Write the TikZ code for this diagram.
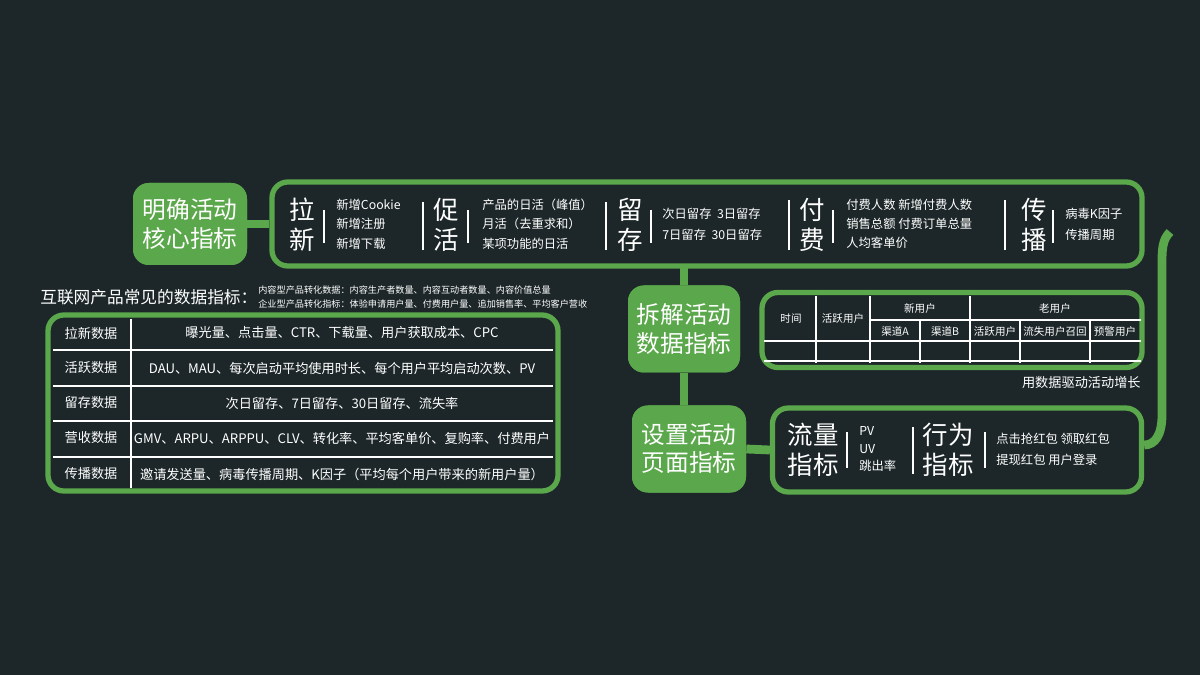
\documentclass[tikz,border=0pt]{standalone}
\usepackage{fontspec}
\setmainfont{Noto Sans CJK SC}
\definecolor{bg}{HTML}{1D2729}
\definecolor{gr}{HTML}{5AA84B}
\begin{document}
\begin{tikzpicture}[x=0.02cm,y=-0.02cm,
  gbox/.style={fill=gr,rounded corners=9pt,text=white,align=center,font=\fontsize{13.5}{16}\selectfont,inner sep=0pt},
  obox/.style={draw=gr,line width=3pt,rounded corners=9pt},
  big/.style={text=white,font=\fontsize{14.5}{17}\selectfont,align=center,inner sep=0pt},
  itm/.style={text=white,font=\fontsize{7}{11}\selectfont,align=left,anchor=west,inner sep=0pt},
  sep/.style={draw=white,line width=0.6pt},
  tl/.style={draw=white,line width=0.9pt},
  tt/.style={text=white,font=\fontsize{7.5}{9}\selectfont,inner sep=0pt},
  st/.style={text=white,font=\fontsize{5.2}{6}\selectfont,inner sep=0pt},
  con/.style={draw=gr,line width=5pt}]
\fill[bg] (0,0) rectangle (1200,675);
\useasboundingbox (0,0) rectangle (1200,675);
\node[gbox,minimum width=114*0.02cm,minimum height=82*0.02cm] (core) at (190,224) {明确活动\\核心指标};
\node[obox,minimum width=870*0.02cm,minimum height=84*0.02cm] (top) at (707,224) {};
\node[gbox,minimum width=112*0.02cm,minimum height=87*0.02cm] (split) at (684,329) {拆解活动\\数据指标};
\node[gbox,minimum width=114*0.02cm,minimum height=87*0.02cm] (page) at (689,449) {设置活动\\页面指标};
\node[obox,minimum width=369*0.02cm,minimum height=84*0.02cm] (bot) at (957,450) {};
\path[con] (core.east) -- (top.west);
\path[con] (684,266) -- (split.north);
\path[con] (split.south) -- (684,405);
\path[con] (page.east) -- (bot.west);
\coordinate (rs) at (1170,232);
\path (bot.east) ++(0,-5) coordinate (be);
\path[con] (rs) .. controls (1162,240) and (1162,250) .. (1162,265) -- (1162,415) .. controls (1162,435) and (1155,445) .. (be);
\node[gbox,minimum width=114*0.02cm,minimum height=82*0.02cm] at (190,224) {明确活动\\核心指标};
\node[gbox,minimum width=112*0.02cm,minimum height=87*0.02cm] at (684,329) {拆解活动\\数据指标};
\node[gbox,minimum width=114*0.02cm,minimum height=87*0.02cm] at (689,449) {设置活动\\页面指标};
% top box content
\node[big] (lx) at (302,225) {拉\\新};
\draw[sep] (324,210)--(324,243);
\node[itm] at (336,224) {新增Cookie\\新增注册\\新增下载};
\draw[sep] (423,202)--(423,250);
\node[big] (ch) at (446,225) {促\\活};
\draw[sep] (468,210)--(468,243);
\node[itm] at (482,224) {产品的日活（峰值）\\月活（去重求和）\\某项功能的日活};
\draw[sep] (606,202)--(606,250);
\node[big] (lc) at (630,225) {留\\存};
\draw[sep] (651,210)--(651,243);
\node[itm,font=\fontsize{7}{12}\selectfont] at (662,224) {次日留存\ \ 3日留存\\7日留存\ \ 30日留存};
\draw[sep] (789,200)--(789,250);
\node[big] (ff) at (812,225) {付\\费};
\draw[sep] (833,210)--(833,243);
\node[itm] at (846,224) {付费人数\ 新增付费人数\\销售总额\ 付费订单总量\\人均客单价};
\draw[sep] (1005,200)--(1005,250);
\node[big] (cb) at (1034,225) {传\\播};
\draw[sep] (1053,210)--(1053,243);
\node[itm,font=\fontsize{7}{12}\selectfont] at (1065,224) {病毒K因子\\传播周期};
% left title
\node[text=white,font=\fontsize{9.5}{11}\selectfont,anchor=west,inner sep=0pt] (ltitle) at (40,297) {互联网产品常见的数据指标：};
\node[st,anchor=west] (s1) at (258,290) {内容型产品转化数据：内容生产者数量、内容互动者数量、内容价值总量};
\node[st,anchor=west] (s2) at (258,304) {企业型产品转化指标：体验申请用户量、付费用户量、追加销售率、平均客户营收};
% left table
\node[obox,minimum width=510*0.02cm,minimum height=176*0.02cm] (ltab) at (303,403) {};
\foreach \y in {350,386,421,457} \draw[tl] (53,\y)--(553,\y);
\draw[tl] (131,319)--(131,488);
\foreach \y/\a/\b in {333/拉新数据/曝光量、点击量、CTR、下载量、用户获取成本、CPC,
  368/活跃数据/DAU、MAU、每次启动平均使用时长、每个用户平均启动次数、PV,
  403/留存数据/次日留存、7日留存、30日留存、流失率,
  438/营收数据/GMV、ARPU、ARPPU、CLV、转化率、平均客单价、复购率、付费用户,
  474/传播数据/邀请发送量、病毒传播周期、K因子（平均每个用户带来的新用户量）}{
  \node[tt] at (91,\y) {\a};
  \node[tt] at (342,\y) {\b};}
% right table
\node[obox,minimum width=380*0.02cm,minimum height=75*0.02cm] (rt) at (952,330) {};
\draw[tl] (870,320)--(1141,320);
\draw[tl] (764,341)--(1141,341);
\draw[tl] (764,361)--(1141,361);
\foreach \x in {816,870,970} \draw[tl] (\x,296)--(\x,363);
\foreach \x in {920,1020,1090} \draw[tl] (\x,320)--(\x,363);
\node[st,font=\fontsize{6}{7}\selectfont] at (791,319) {时间};
\node[st,font=\fontsize{6}{7}\selectfont] at (843,319) {活跃用户};
\node[st,font=\fontsize{6}{7}\selectfont] at (920,308) {新用户};
\node[st,font=\fontsize{6}{7}\selectfont] at (1055,308) {老用户};
\node[st,font=\fontsize{6}{7}\selectfont] at (895,331) {渠道A};
\node[st,font=\fontsize{6}{7}\selectfont] at (945,331) {渠道B};
\node[st,font=\fontsize{6}{7}\selectfont] at (995,331) {活跃用户};
\node[st,font=\fontsize{6}{7}\selectfont] at (1055,331) {流失用户召回};
\node[st,font=\fontsize{6}{7}\selectfont] at (1115,331) {预警用户};
\node[text=white,font=\fontsize{7.5}{9}\selectfont,anchor=east,inner sep=0pt] (cap) at (1141,383) {用数据驱动活动增长};
% bottom box content
\node[big] at (813,450) {流量\\指标};
\draw[sep] (847,432)--(847,468);
\node[itm,font=\fontsize{7}{10}\selectfont] at (859,449) {PV\\UV\\跳出率};
\draw[sep] (913,427)--(913,474);
\node[big] at (948,450) {行为\\指标};
\draw[sep] (985,432)--(985,468);
\node[itm,font=\fontsize{7}{12}\selectfont] at (996,449) {点击抢红包\ 领取红包\\提现红包\ 用户登录};
\end{tikzpicture}
\end{document}
